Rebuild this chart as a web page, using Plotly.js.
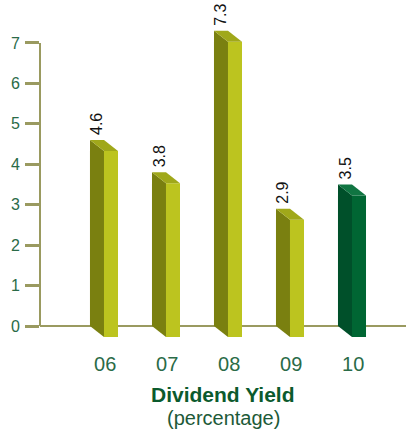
<!DOCTYPE html>
<html>
<head>
<meta charset="utf-8">
<script src="https://cdn.plot.ly/plotly-3.0.1.min.js"></script>
<style>html,body{margin:0;padding:0;background:#fff;}#chart{width:406px;height:434px;}</style>
</head>
<body>
<div id="chart"></div>
<script>
// Data
var categories = ["06", "07", "08", "09", "10"];
var values = [4.6, 3.8, 7.3, 2.9, 3.5];
var labels = ["4.6", "3.8", "7.3", "2.9", "3.5"];
var yTicks = [0, 1, 2, 3, 4, 5, 6, 7];
var titleLine1 = "Dividend Yield";
var titleLine2 = "(percentage)";

// Styling (pseudo-3D geometry in axis units)
var faceW = 0.226, depthX = 0.226, depthY = 0.272;
var olive = {front: "#bcc41f", side: "#7a8010", top: "#a0a81a"};
var green = {front: "#006633", side: "#00502a", top: "#107542"};
var font = "Liberation Sans, Arial, sans-serif";

var traces = [];
values.forEach(function (v, i) {
  var c = (i === values.length - 1) ? green : olive;
  var x0 = i, x1 = i + faceW, xb = i - depthX;
  traces.push({type: "scatter", mode: "lines", fill: "toself", fillcolor: c.side,
    line: {width: 0, color: c.side}, hoverinfo: "skip", showlegend: false,
    x: [xb, x0, x0, xb, xb], y: [v, v - depthY, -depthY, 0, v]});
  traces.push({type: "scatter", mode: "lines", fill: "toself", fillcolor: c.front,
    line: {width: 0, color: c.front}, hoverinfo: "skip", showlegend: false,
    x: [x0, x1, x1, x0, x0], y: [v - depthY, v - depthY, -depthY, -depthY, v - depthY]});
  traces.push({type: "scatter", mode: "lines", fill: "toself", fillcolor: c.top,
    line: {width: 0, color: c.top}, hoverinfo: "skip", showlegend: false,
    x: [xb, xb + faceW, x1, x0, xb], y: [v, v, v - depthY, v - depthY, v]});
});

var annotations = values.map(function (v, i) {
  return {x: i - depthX / 2, y: v, xref: "x", yref: "y", text: labels[i],
    textangle: -90, showarrow: false, xanchor: "center", yanchor: "bottom", yshift: 3,
    font: {family: font, size: 16, color: "#111111"}};
});
annotations.push({xref: "paper", yref: "paper", x: 0.5, y: -0.1774, yanchor: "middle",
  showarrow: false, text: "<b>" + titleLine1 + "</b>",
  font: {family: font, size: 21, color: "#0b5a2d"}});
annotations.push({xref: "paper", yref: "paper", x: 0.5, y: -0.2516, yanchor: "middle",
  showarrow: false, text: titleLine2,
  font: {family: font, size: 20, color: "#1d5a38"}});

var layout = {
  width: 406, height: 434,
  margin: {l: 40, r: 0, t: 30, b: 94},
  paper_bgcolor: "#ffffff", plot_bgcolor: "#ffffff",
  showlegend: false,
  xaxis: {
    range: [-1.032, 4.871], tickmode: "array",
    tickvals: categories.map(function (c, i) { return i + 0.02; }), ticktext: categories,
    showgrid: false, zeroline: false, showline: false, ticks: "",
    tickfont: {family: font, size: 20, color: "#2a6b48"},
    ticklabelstandoff: 10,
    fixedrange: true
  },
  yaxis: {
    range: [-0.346, 7.32], tickmode: "array", tickvals: yTicks,
    ticktext: yTicks.map(String),
    showgrid: false, showline: false,
    zeroline: true, zerolinecolor: "#9a9a60", zerolinewidth: 2,
    ticks: "outside", ticklen: 14, tickwidth: 3, tickcolor: "#9a9a60",
    tickfont: {family: font, size: 16, color: "#2a6b48"},
    ticklabelstandoff: 2,
    fixedrange: true
  },
  shapes: [{type: "line", xref: "paper", yref: "y", x0: 0, x1: 0, y0: 0, y1: 7,
    line: {color: "#9a9a60", width: 2}, layer: "below"}],
  annotations: annotations
};

Plotly.newPlot("chart", traces, layout, {displayModeBar: false, staticPlot: true});
</script>
</body>
</html>
